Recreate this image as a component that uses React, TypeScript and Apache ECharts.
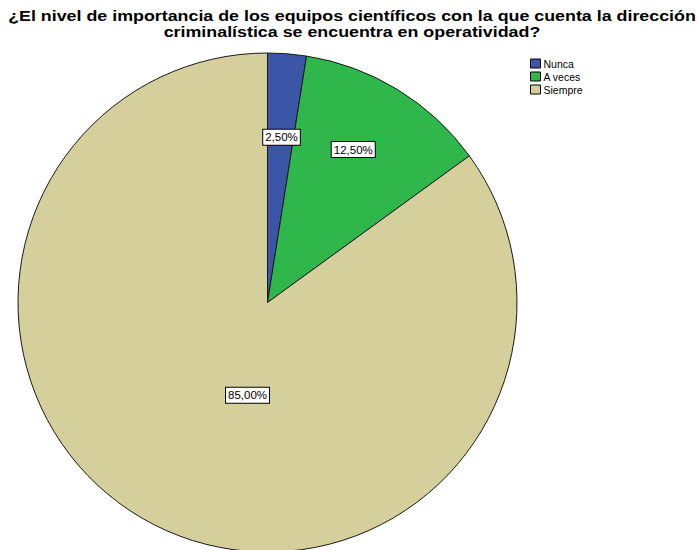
import React, { useEffect, useRef } from "react";
import * as echarts from "echarts";

const titleLine1 = "¿El nivel de importancia de los equipos científicos con la que cuenta la dirección";
const titleLine2 = "criminalística se encuentra en operatividad?";
const categories = ["Nunca", "A veces", "Siempre"];
const percents = [2.5, 12.5, 85.0];
const colors = ["#3b55a7", "#2fb74b", "#d4cf9b"];
const labelShifts = [
  [4, -38],
  [19, -44],
  [38, -21],
];

export default function App() {
  const ref = useRef<HTMLDivElement>(null);
  useEffect(() => {
    if (!ref.current) return;
    const chart = echarts.init(ref.current, undefined, { renderer: "svg" });
    const font = "Liberation Sans, Arial, sans-serif";
    const titleStyle = {
      textAlign: "center",
      textVerticalAlign: "middle",
      fontFamily: font,
      fontWeight: "bold",
      fontSize: 14.5,
      fill: "#000",
    };
    chart.setOption({
      animation: false,
      backgroundColor: "#ffffff",
      graphic: [
        {
          type: "text",
          x: 352,
          y: 16,
          scaleX: 1.23,
          style: { ...titleStyle, text: titleLine1 },
        },
        {
          type: "text",
          x: 352,
          y: 31.5,
          scaleX: 1.23,
          style: { ...titleStyle, text: titleLine2 },
        },
      ],
      legend: {
        orient: "vertical",
        left: 530,
        top: 58,
        padding: 0,
        itemWidth: 10,
        itemHeight: 9,
        itemGap: 2,
        icon: "rect",
        itemStyle: { borderColor: "#000", borderWidth: 1 },
        textStyle: { fontFamily: font, fontSize: 10.5, color: "#000", padding: [0, 0, 0, -2] },
        data: categories,
      },
      series: [
        {
          type: "pie",
          center: [267.5, 302.5],
          radius: 249.5,
          startAngle: 90,
          clockwise: true,
          avoidLabelOverlap: false,
          emphasis: { disabled: true },
          itemStyle: { borderColor: "#1a1a1a", borderWidth: 1 },
          label: {
            show: true,
            position: "inside",
            formatter: (p: any) => p.value.toFixed(2).replace(".", ",") + "%",
            fontFamily: font,
            fontSize: 11.5,
            color: "#000",
            backgroundColor: "#fff",
            borderColor: "#000",
            borderWidth: 1,
            padding: [2, 2, 1, 2],
          },
          labelLine: { show: false },
          labelLayout: (params: any) => ({
            dx: labelShifts[params.dataIndex][0],
            dy: labelShifts[params.dataIndex][1],
          }),
          data: categories.map((name, i) => ({
            name,
            value: percents[i],
            itemStyle: { color: colors[i] },
          })),
        },
      ],
    });
    return () => chart.dispose();
  }, []);
  return (
    <div
      ref={ref}
      style={{ position: "fixed", left: 0, top: 0, width: 697, height: 550 }}
    />
  );
}
